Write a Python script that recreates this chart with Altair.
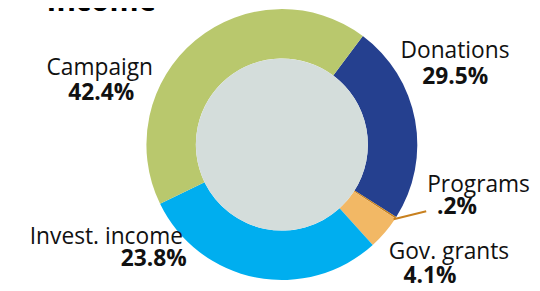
import math
import altair as alt
import pandas as pd

# Slices in drawing order (clockwise from the top-right boundary), sizes as drawn in the picture
categories = ["Donations", "Programs", "Gov. grants", "Invest. income", "Campaign"]
slice_share = [23.8, 0.2, 4.1, 29.5, 42.4]
colors = ["#25408f", "#c7821f", "#f2b865", "#00aeef", "#b9c86d"]

# Printed label texts
label_names = ["Donations", "Programs", "Gov. grants", "Invest. income", "Campaign"]
label_pcts = ["29.5%", ".2%", "4.1%", "23.8%", "42.4%"]
title_text = "Income"

# Layout (plot-area pixel anchors for the annotations)
CX, CY = 277, 136.5
R_OUT, R_IN = 137, 87
START = math.radians(36.7)
name_pos = [(397, 49), (424, 184), (385, 252), (22, 237), (39, 66)]
pct_pos = [(419, 75), (434, 207), (400, 277), (114, 259), (61, 91)]

df = pd.DataFrame({"cat": categories, "share": slice_share, "idx": list(range(len(categories)))})

donut = alt.Chart(df).mark_arc(innerRadius=R_IN, outerRadius=R_OUT).encode(
    theta=alt.Theta("share:Q", stack=True, scale=alt.Scale(range=[START, START + 2 * math.pi])),
    color=alt.Color("cat:N", scale=alt.Scale(domain=categories, range=colors), legend=None),
    order=alt.Order("idx:Q"),
    x=alt.value(CX),
    y=alt.value(CY),
)

# Vega circle symbol: size is the area of its bounding square
hole = alt.Chart(pd.DataFrame({"a": [0]})).mark_circle(
    size=(2 * R_IN) ** 2, color="#d4dddb", opacity=1
).encode(x=alt.value(CX), y=alt.value(CY))

leader = alt.Chart(pd.DataFrame({"a": [0]})).mark_rule(color="#c8801e", strokeWidth=2).encode(
    x=alt.value(390), y=alt.value(212), x2=alt.value(423), y2=alt.value(204)
)

layers = [donut, hole, leader]
FONT = "Open Sans"
for name, pct, (nx, ny), (px, py) in zip(label_names, label_pcts, name_pos, pct_pos):
    layers.append(
        alt.Chart(pd.DataFrame({"t": [name]})).mark_text(
            font=FONT, fontSize=23, align="left", baseline="alphabetic", color="#111111"
        ).encode(text="t:N", x=alt.value(nx), y=alt.value(ny))
    )
    layers.append(
        alt.Chart(pd.DataFrame({"t": [pct]})).mark_text(
            font=FONT, fontSize=23, fontWeight="bold", align="left", baseline="alphabetic", color="#111111"
        ).encode(text="t:N", x=alt.value(px), y=alt.value(py))
    )

layers.append(
    alt.Chart(pd.DataFrame({"t": [title_text]})).mark_text(
        font=FONT, fontSize=30, fontWeight="bold", align="left", baseline="alphabetic", color="#000000"
    ).encode(text="t:N", x=alt.value(39), y=alt.value(1))
)

chart = alt.layer(*layers).properties(
    width=530, height=282, padding=0, autosize=alt.AutoSizeParams(type="none")
).configure_view(stroke=None)

chart.save("out.html", embed_options={"renderer": "svg", "actions": False})
